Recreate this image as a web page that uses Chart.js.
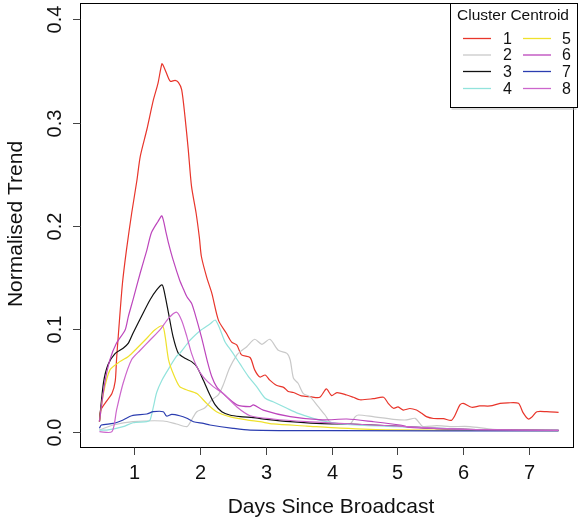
<!DOCTYPE html>
<html>
<head>
<meta charset="utf-8">
<script src="https://cdn.jsdelivr.net/npm/chart.js@4.4.1/dist/chart.umd.min.js"></script>
<style>
  html, body { margin: 0; padding: 0; background: #fff; }
  #wrap { width: 581px; height: 522px; }
</style>
</head>
<body>
<div id="wrap"><canvas id="c" width="581" height="522"></canvas></div>
<script>
// Normalised search-trend centroids, [days since broadcast, normalised trend]
const centroid1 = [[0.47,0.010],[0.49,0.021],[0.57,0.029],[0.66,0.037],[0.71,0.049],[0.73,0.070],[0.76,0.096],[0.82,0.144],[0.88,0.176],[0.96,0.212],[1.04,0.244],[1.09,0.267],[1.19,0.293],[1.29,0.322],[1.36,0.338],[1.42,0.357],[1.45,0.354],[1.52,0.343],[1.55,0.340],[1.62,0.341],[1.67,0.339],[1.72,0.332],[1.77,0.306],[1.82,0.274],[1.87,0.238],[1.94,0.212],[1.99,0.188],[2.02,0.170],[2.10,0.150],[2.18,0.134],[2.28,0.108],[2.40,0.0955],[2.48,0.087],[2.56,0.084],[2.63,0.0745],[2.76,0.072],[2.83,0.060],[2.91,0.053],[2.99,0.055],[3.06,0.050],[3.16,0.045],[3.27,0.043],[3.34,0.039],[3.42,0.038],[3.54,0.0347],[3.67,0.034],[3.82,0.0334],[3.92,0.0415],[4.00,0.035],[4.08,0.038],[4.23,0.0356],[4.33,0.0334],[4.43,0.031],[4.63,0.032],[4.79,0.0334],[4.86,0.0275],[4.94,0.0227],[5.01,0.024],[5.09,0.021],[5.19,0.0225],[5.29,0.021],[5.37,0.0178],[5.44,0.0146],[5.55,0.0128],[5.70,0.0126],[5.82,0.011],[5.87,0.0152],[5.95,0.026],[6.00,0.0275],[6.13,0.0237],[6.25,0.025],[6.41,0.025],[6.56,0.0275],[6.68,0.028],[6.84,0.0275],[6.91,0.0185],[6.99,0.0123],[7.04,0.014],[7.12,0.0194],[7.27,0.0194],[7.45,0.0188]];
const centroid2 = [[0.47,0.0016],[0.68,0.0065],[0.98,0.0097],[1.44,0.0104],[1.64,0.0075],[1.80,0.0049],[1.87,0.0114],[1.95,0.0194],[2.07,0.023],[2.18,0.031],[2.28,0.036],[2.35,0.045],[2.45,0.062],[2.56,0.0745],[2.61,0.0777],[2.71,0.0825],[2.83,0.0897],[2.94,0.0848],[3.06,0.0897],[3.19,0.079],[3.32,0.076],[3.37,0.0696],[3.42,0.0518],[3.49,0.047],[3.57,0.037],[3.67,0.034],[3.80,0.024],[3.90,0.0162],[3.97,0.0097],[4.08,0.008],[4.28,0.0075],[4.36,0.0146],[4.41,0.0162],[4.63,0.0146],[4.94,0.012],[5.14,0.0114],[5.27,0.013],[5.34,0.008],[5.39,0.005],[5.60,0.0058],[5.80,0.005],[6.10,0.005],[6.45,0.0023],[7.00,0.0015],[7.45,0.0012]];
const centroid3 = [[0.47,0.0097],[0.53,0.047],[0.60,0.065],[0.71,0.076],[0.83,0.081],[0.91,0.086],[0.98,0.0955],[1.11,0.112],[1.24,0.128],[1.34,0.1376],[1.42,0.1424],[1.45,0.1376],[1.52,0.115],[1.59,0.092],[1.67,0.076],[1.77,0.0713],[1.87,0.068],[1.95,0.063],[2.05,0.050],[2.15,0.0356],[2.23,0.026],[2.33,0.0194],[2.45,0.0162],[2.61,0.0146],[2.81,0.0136],[3.01,0.012],[3.37,0.0097],[3.77,0.008],[4.13,0.0075],[4.63,0.0065],[5.14,0.0049],[5.60,0.003],[6.20,0.002],[7.45,0.0012]];
const centroid4 = [[0.47,0.0016],[0.58,0.0016],[0.83,0.0049],[0.98,0.0087],[1.19,0.0097],[1.24,0.0114],[1.29,0.024],[1.34,0.038],[1.42,0.050],[1.54,0.063],[1.64,0.073],[1.69,0.076],[1.80,0.085],[1.85,0.089],[2.00,0.098],[2.15,0.1045],[2.23,0.1084],[2.30,0.100],[2.38,0.087],[2.48,0.078],[2.61,0.0655],[2.73,0.054],[2.86,0.0437],[2.99,0.0324],[3.11,0.029],[3.32,0.0227],[3.49,0.0178],[3.72,0.013],[3.92,0.0097],[4.08,0.008],[4.50,0.006],[5.00,0.005],[5.50,0.004],[6.00,0.002],[7.45,0.0012]];
const centroid5 = [[0.47,0.0097],[0.53,0.037],[0.63,0.060],[0.78,0.068],[0.91,0.073],[1.04,0.081],[1.19,0.0907],[1.31,0.0987],[1.43,0.1026],[1.47,0.092],[1.52,0.070],[1.59,0.0567],[1.69,0.0437],[1.80,0.0405],[1.95,0.037],[2.10,0.0275],[2.25,0.0194],[2.45,0.0146],[2.71,0.0114],[2.91,0.0097],[3.11,0.0075],[3.62,0.0055],[4.13,0.0035],[4.89,0.0018],[7.45,0.001]];
const centroid6 = [[0.47,0.0097],[0.55,0.047],[0.63,0.070],[0.73,0.086],[0.86,0.0987],[0.91,0.112],[0.98,0.128],[1.09,0.154],[1.19,0.176],[1.26,0.193],[1.36,0.204],[1.42,0.2094],[1.48,0.194],[1.52,0.183],[1.59,0.1667],[1.69,0.147],[1.75,0.138],[1.80,0.131],[1.87,0.1247],[1.92,0.115],[2.02,0.092],[2.12,0.066],[2.18,0.053],[2.25,0.0437],[2.35,0.037],[2.56,0.026],[2.76,0.0243],[2.81,0.026],[2.96,0.021],[3.37,0.0146],[3.86,0.0114],[4.23,0.0123],[4.63,0.0097],[5.04,0.0065],[5.19,0.0042],[5.60,0.003],[6.20,0.002],[7.45,0.0012]];
const centroid7 = [[0.47,0.0033],[0.50,0.0065],[0.68,0.008],[0.83,0.0114],[0.96,0.0155],[1.19,0.0172],[1.29,0.0194],[1.44,0.0194],[1.49,0.0152],[1.57,0.0169],[1.69,0.0155],[1.80,0.013],[1.90,0.0097],[2.05,0.008],[2.15,0.0065],[2.50,0.0033],[2.76,0.0016],[4.00,0.001],[7.45,0.0008]];
const centroid8 = [[0.47,0],[0.66,0],[0.73,0.021],[0.83,0.047],[0.96,0.070],[1.09,0.079],[1.24,0.089],[1.39,0.0987],[1.52,0.110],[1.64,0.1160],[1.72,0.108],[1.80,0.092],[1.87,0.076],[1.95,0.063],[2.05,0.053],[2.20,0.0437],[2.35,0.037],[2.56,0.024],[2.76,0.0155],[3.11,0.0123],[3.62,0.0097],[4.13,0.008],[4.63,0.0065],[5.14,0.005],[5.60,0.0035],[6.20,0.002],[7.45,0.0012]];

const clusterLabels = ['1', '2', '3', '4', '5', '6', '7', '8'];
const clusterColors = ['#e8352b', '#c9c9c9', '#111111', '#92e3dc', '#efe12c', '#bc45bc', '#2b3db0', '#cc66cc'];
const xTicks = [1, 2, 3, 4, 5, 6, 7];
const yTicks = [0.0, 0.1, 0.2, 0.3, 0.4];
const xTitle = 'Days Since Broadcast';
const yTitle = 'Normalised Trend';
const legendTitle = 'Cluster Centroid';

const series = [centroid1, centroid2, centroid3, centroid4, centroid5, centroid6, centroid7, centroid8];
const FONT = '"Liberation Sans", Arial, Helvetica, sans-serif';

// Box, ticks, axis labels and legend in the style of a base-graphics plot
const framePlugin = {
  id: 'frame',
  afterDraw(chart) {
    const { ctx, chartArea: a, scales: { x, y } } = chart;
    ctx.save();
    ctx.strokeStyle = '#000';
    ctx.lineWidth = 1;
    ctx.strokeRect(a.left + 0.5, a.top + 0.5, a.right - a.left - 1, a.bottom - a.top - 1);

    ctx.strokeStyle = '#444';
    ctx.fillStyle = '#111';
    ctx.font = '20px ' + FONT;
    ctx.textAlign = 'center';
    ctx.textBaseline = 'middle';
    xTicks.forEach(t => {
      const px = Math.round(x.getPixelForValue(t)) + 0.5;
      ctx.beginPath();
      ctx.moveTo(px, a.bottom - 0.5);
      ctx.lineTo(px, a.bottom + 7);
      ctx.stroke();
      ctx.fillText(String(t), px, 473);
    });
    yTicks.forEach(t => {
      const py = Math.round(y.getPixelForValue(t)) + 0.5;
      ctx.beginPath();
      ctx.moveTo(a.left + 0.5, py);
      ctx.lineTo(a.left - 7, py);
      ctx.stroke();
      ctx.save();
      ctx.translate(55, py);
      ctx.rotate(-Math.PI / 2);
      ctx.fillText(t.toFixed(1), 0, 0);
      ctx.restore();
    });

    ctx.font = '21px ' + FONT;
    ctx.fillText(xTitle, 331, 507);
    ctx.save();
    ctx.translate(16, 224);
    ctx.rotate(-Math.PI / 2);
    ctx.fillText(yTitle, 0, 0);
    ctx.restore();

    // legend
    const L = { left: 450.5, top: 3.5, right: 577.5, bottom: 107.5 };
    ctx.fillStyle = '#fff';
    ctx.fillRect(L.left, L.top, L.right - L.left, L.bottom - L.top);
    ctx.strokeStyle = '#bbb';
    ctx.beginPath();
    ctx.moveTo(L.left + 1, L.bottom + 1.5);
    ctx.lineTo(L.right - 1, L.bottom + 1.5);
    ctx.stroke();
    ctx.strokeStyle = '#000';
    ctx.strokeRect(L.left, L.top, L.right - L.left, L.bottom - L.top);
    ctx.fillStyle = '#111';
    ctx.font = '15.5px ' + FONT;
    ctx.fillText(legendTitle, 513, 16);
    ctx.font = '16px ' + FONT;
    ctx.textAlign = 'left';
    const rowY = [38.5, 55, 71.5, 88.5];
    chart.data.datasets.forEach((ds, i) => {
      const col = Math.floor(i / 4), row = i % 4;
      const lx = col === 0 ? 463 : 523;
      const tx = col === 0 ? 503 : 562;
      const yy = rowY[row];
      ctx.strokeStyle = ds.borderColor;
      ctx.lineWidth = 1.3;
      ctx.beginPath();
      ctx.moveTo(lx, yy);
      ctx.lineTo(lx + 28, yy);
      ctx.stroke();
      ctx.fillText(ds.label, tx, yy + 1);
    });
    ctx.restore();
  }
};

new Chart(document.getElementById('c'), {
  type: 'line',
  data: {
    datasets: series.map((pts, i) => ({
      label: clusterLabels[i],
      data: pts.map(([d, v]) => ({ x: d, y: v })),
      borderColor: clusterColors[i],
      borderWidth: 1.2,
      pointRadius: 0,
      tension: 0.25,
      fill: false,
      order: series.length - i
    }))
  },
  options: {
    responsive: false,
    animation: false,
    devicePixelRatio: 1,
    layout: { padding: { left: 80, top: 3, right: 7, bottom: 74 } },
    plugins: { legend: { display: false }, tooltip: { enabled: false } },
    scales: {
      x: { type: 'linear', min: 0.1745, max: 7.6845, display: false },
      y: { type: 'linear', min: -0.01582, max: 0.4160, display: false }
    }
  },
  plugins: [framePlugin]
});
</script>
</body>
</html>
